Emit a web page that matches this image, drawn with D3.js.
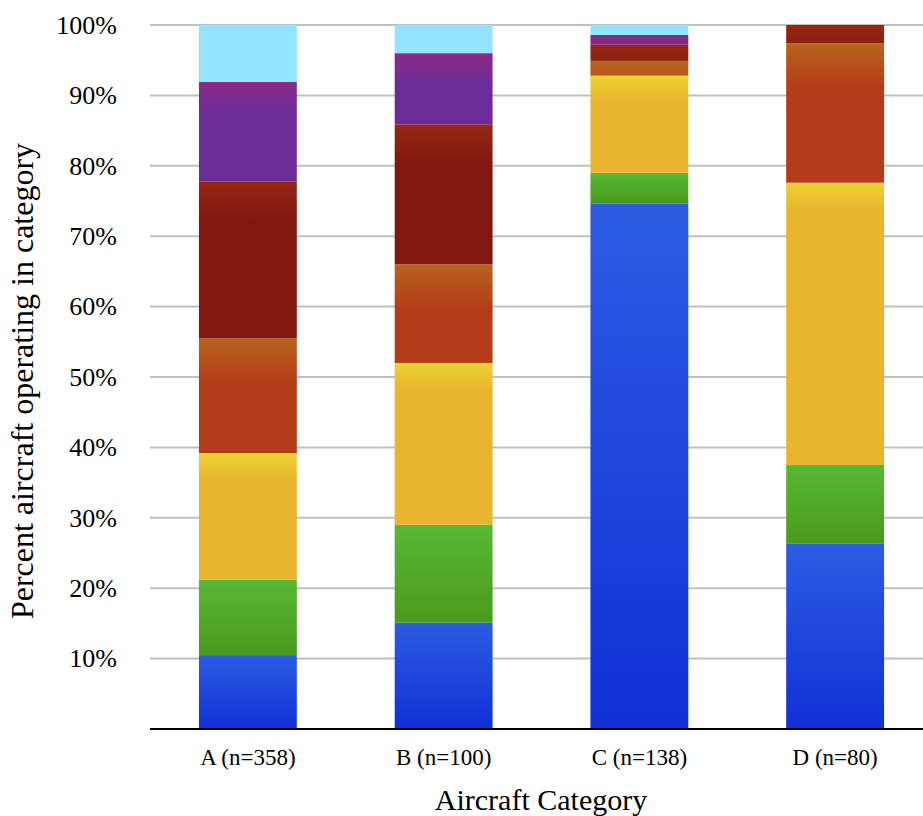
<!DOCTYPE html>
<html>
<head>
<meta charset="utf-8">
<script src="https://cdn.jsdelivr.net/npm/d3@7"></script>
<style>
    body { margin: 0; background: #fff; }
</style>
</head>
<body>
<div id="chart"></div>
<script>
// Data (percent of aircraft per category)
var categories = ["A (n=358)", "B (n=100)", "C (n=138)", "D (n=80)"];
var seriesKeys = ["s1", "s2", "s3", "s4", "s5", "s6", "s7"];
var s1 = [10.5, 15.1, 74.6, 26.3];
var s2 = [10.7, 13.9, 4.4, 11.2];
var s3 = [18.0, 23.0, 13.8, 40.1];
var s4 = [16.3, 14.0, 2.1, 19.8];
var s5 = [22.3, 19.9, 2.3, 2.6];
var s6 = [14.1, 10.1, 1.4, 0];
var s7 = [8.1, 4.0, 1.4, 0];
var yTicks = [10, 20, 30, 40, 50, 60, 70, 80, 90, 100];

// top colour, main colour, fade length in px (0 = whole segment)
var colors = {
    s1: ["#2c5ce2", "#1030d6", 0],
    s2: ["#58b834", "#4a9a1c", 0],
    s3: ["#ecd232", "#e8b52e", 28],
    s4: ["#b8641e", "#b43c18", 45],
    s5: ["#962614", "#80180f", 40],
    s6: ["#8c2a84", "#6c2c98", 30],
    s7: ["#94e4ff", "#94e4ff", 10]
};

var font = "'Liberation Serif', 'DejaVu Serif', serif";

var table = categories.map(function(c, i) {
    return {cat: c, s1: s1[i], s2: s2[i], s3: s3[i], s4: s4[i], s5: s5[i], s6: s6[i], s7: s7[i]};
});

var width = 923, height = 816;
var margin = {left: 150, right: 0, top: 25, bottom: 87};

var svg = d3.select("#chart").append("svg")
    .attr("width", width)
    .attr("height", height)
    .attr("font-family", font);

var defs = svg.append("defs");

var x = d3.scaleBand()
    .domain(categories)
    .range([margin.left, 933])
    .paddingInner(0.5)
    .paddingOuter(0.25);

var y = d3.scaleLinear()
    .domain([0, 100])
    .range([height - margin.bottom, margin.top]);

// Gridlines
svg.selectAll(".grid")
    .data(yTicks)
    .enter().append("line")
    .attr("class", "grid")
    .attr("x1", margin.left)
    .attr("x2", width)
    .attr("y1", function(d) { return y(d); })
    .attr("y2", function(d) { return y(d); })
    .attr("stroke", "#c0c0c0")
    .attr("stroke-width", 2);

// Y tick labels
svg.selectAll(".ylab")
    .data(yTicks)
    .enter().append("text")
    .attr("class", "ylab")
    .attr("x", 117)
    .attr("y", function(d) { return y(d); })
    .attr("dy", "0.34em")
    .attr("text-anchor", "end")
    .style("font-family", font)
    .style("font-size", "26px")
    .text(function(d) { return d + "%"; });

// Stacked bars
var stacked = d3.stack().keys(seriesKeys)(table);

var layer = svg.selectAll(".layer")
    .data(stacked)
    .enter().append("g")
    .attr("class", "layer");

layer.each(function(s) {
    var key = s.key;
    var col = colors[key];
    d3.select(this).selectAll("rect")
        .data(s.filter(function(d) { return d[1] - d[0] > 0; }))
        .enter().append("rect")
        .attr("x", function(d) { return x(d.data.cat); })
        .attr("y", function(d) { return y(d[1]); })
        .attr("width", x.bandwidth())
        .attr("height", function(d) { return y(d[0]) - y(d[1]); })
        .attr("fill", function(d, i) {
            var id = "g_" + key + "_" + i;
            var fade = col[2] || (y(d[0]) - y(d[1]));
            var g = defs.append("linearGradient")
                .attr("id", id)
                .attr("gradientUnits", "userSpaceOnUse")
                .attr("x1", 0).attr("x2", 0)
                .attr("y1", y(d[1]))
                .attr("y2", y(d[1]) + fade);
            g.append("stop").attr("offset", 0).attr("stop-color", col[0]);
            g.append("stop").attr("offset", 1).attr("stop-color", col[1]);
            return "url(#" + id + ")";
        });
});

// Baseline
svg.append("line")
    .attr("x1", margin.left)
    .attr("x2", width)
    .attr("y1", y(0))
    .attr("y2", y(0))
    .attr("stroke", "#000")
    .attr("stroke-width", 2);

// X tick labels
svg.selectAll(".xlab")
    .data(categories)
    .enter().append("text")
    .attr("class", "xlab")
    .attr("x", function(d) { return x(d) + x.bandwidth() / 2; })
    .attr("y", 765)
    .attr("text-anchor", "middle")
    .style("font-family", font)
    .style("font-size", "23px")
    .text(function(d) { return d; });

// Axis titles
svg.append("text")
    .attr("x", 541)
    .attr("y", 810)
    .attr("text-anchor", "middle")
    .style("font-family", font)
    .style("font-size", "30px")
    .text("Aircraft Category");

svg.append("text")
    .attr("transform", "translate(33,381) rotate(-90)")
    .attr("text-anchor", "middle")
    .style("font-family", font)
    .style("font-size", "32px")
    .text("Percent aircraft operating in category");
</script>
</body>
</html>
